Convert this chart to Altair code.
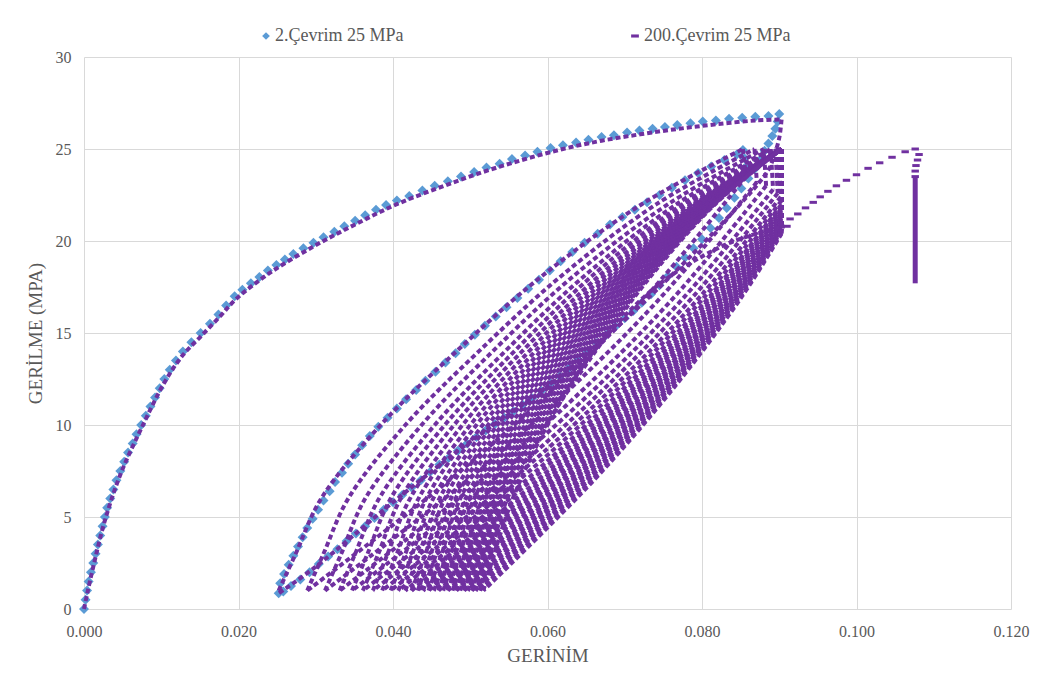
import altair as alt
import pandas as pd

S1 = "2.Çevrim 25 MPa"
S2 = "200.Çevrim 25 MPa"
BLUE = "#5B9BD5"
PURPLE = "#7030A0"
DASH_SHAPE = "M-1,-0.4H1V0.4H-1Z"

# ---------------- series 1 : 2.Çevrim (blue diamonds) ----------------
b_load_x = [0, 0.0002, 0.0004, 0.0006, 0.0009, 0.0012, 0.0015, 0.0018, 0.0021, 0.0024,
            0.0027, 0.0030, 0.0034, 0.0038, 0.0042, 0.0047, 0.0052, 0.0057, 0.0063, 0.0068,
            0.0074, 0.0080, 0.0086, 0.0092, 0.0098, 0.0104, 0.0111, 0.0119, 0.0128, 0.0139,
            0.0151, 0.0163, 0.0174, 0.0184, 0.0195,
            0.0205, 0.0216, 0.0227, 0.0238, 0.0249, 0.0260, 0.0271, 0.0284, 0.0297, 0.0310,
            0.0324, 0.0337, 0.0351, 0.0364, 0.0378, 0.0391, 0.0405, 0.0421, 0.0438, 0.0454,
            0.0471, 0.0488, 0.0505, 0.0521, 0.0538, 0.0554, 0.0571, 0.0587, 0.0604, 0.0620,
            0.0637, 0.0653, 0.0670, 0.0686, 0.0703, 0.0719, 0.0736, 0.0752, 0.0768, 0.0785,
            0.0801, 0.0818, 0.0835, 0.0852, 0.0869, 0.0886, 0.0900]
b_load_y = [0, 0.5, 1, 1.5, 2, 2.5, 3, 3.5, 4, 4.5,
            5, 5.5, 6, 6.5, 7, 7.5, 8, 8.5, 9, 9.5,
            10, 10.5, 11, 11.5, 12, 12.5, 13, 13.5, 14, 14.5,
            15, 15.5, 16, 16.5, 17,
            17.35, 17.7, 18.05, 18.4, 18.7, 19.0, 19.3, 19.6, 19.9, 20.2,
            20.5, 20.8, 21.1, 21.4, 21.7, 21.95, 22.2, 22.45, 22.75, 23.0,
            23.25, 23.5, 23.75, 24.0, 24.2, 24.45, 24.65, 24.85, 25.05, 25.2,
            25.35, 25.5, 25.65, 25.75, 25.9, 26.0, 26.1, 26.2, 26.3, 26.4,
            26.5, 26.55, 26.65, 26.7, 26.75, 26.8, 26.9]

b_unl_x = [0.0898, 0.0895, 0.0891, 0.0886, 0.0881, 0.0875, 0.0868, 0.0860, 0.0851, 0.0842,
           0.0832, 0.0822, 0.0811, 0.0800, 0.0789, 0.0778, 0.0767, 0.0756, 0.0745, 0.0734,
           0.0722, 0.0711, 0.0700, 0.0688, 0.0676, 0.0664, 0.0652, 0.0640, 0.0628, 0.0616,
           0.0604, 0.0592, 0.0580, 0.0568, 0.0556, 0.0544, 0.0532, 0.0520, 0.0508, 0.0496,
           0.0484, 0.0472, 0.0460, 0.0448, 0.0436, 0.0424, 0.0412, 0.0400, 0.0388, 0.0376,
           0.0364, 0.0352, 0.0340, 0.0328, 0.0316, 0.0304, 0.0292, 0.0280, 0.0268, 0.0258,
           0.0252]
b_unl_y = [26.5, 26.1, 25.7, 25.3, 24.9, 24.4, 23.9, 23.4, 22.85, 22.35,
           21.8, 21.25, 20.7, 20.1, 19.6, 19.1, 18.6, 18.1, 17.6, 17.1,
           16.65, 16.2, 15.8, 15.35, 14.9, 14.45, 14.0, 13.55, 13.1, 12.65,
           12.25, 11.85, 11.45, 11.1, 10.75, 10.4, 10.05, 9.7, 9.35, 9.0,
           8.6, 8.2, 7.85, 7.45, 7.0, 6.6, 6.2, 5.8, 5.4, 4.95,
           4.5, 4.1, 3.7, 3.25, 2.85, 2.45, 2.0, 1.6, 1.25, 0.95,
           0.85]

b_rel_x = [0.0254, 0.0259, 0.0265, 0.0271, 0.0277, 0.0283, 0.0289, 0.0296, 0.0303, 0.0310,
           0.0318, 0.0325, 0.0334, 0.0342, 0.0351, 0.0360, 0.0370, 0.0381, 0.0393, 0.0405,
           0.0417, 0.0430, 0.0442, 0.0455, 0.0468, 0.0481, 0.0493, 0.0506, 0.0519, 0.0533,
           0.0547, 0.0561, 0.0575, 0.0589, 0.0603, 0.0617, 0.0632, 0.0648, 0.0665, 0.0681,
           0.0697, 0.0713, 0.0729, 0.0745, 0.0761, 0.0778, 0.0795, 0.0812, 0.0829, 0.0845,
           0.0853, 0.0855, 0.0856, 0.0857]
b_rel_y = [1.4, 1.9, 2.4, 2.9, 3.4, 3.9, 4.4, 4.9, 5.4, 5.9,
           6.4, 6.9, 7.4, 7.9, 8.4, 8.9, 9.4, 9.9, 10.4, 10.9,
           11.4, 11.9, 12.4, 12.9, 13.4, 13.9, 14.4, 14.9, 15.4, 15.9,
           16.4, 16.9, 17.4, 17.9, 18.4, 18.9, 19.4, 19.9, 20.4, 20.9,
           21.3, 21.7, 22.1, 22.5, 22.9, 23.3, 23.7, 24.05, 24.4, 24.7,
           24.95, 24.5, 24.0, 23.5]

# ---------------- series 2 : 200.Çevrim (purple) ----------------
p_load_x = [0, 0.0004, 0.0012, 0.0027, 0.0047, 0.0074, 0.0104, 0.0128, 0.0152, 0.0176,
            0.0197, 0.0240, 0.0297, 0.0351, 0.0405, 0.0460, 0.0513, 0.0567, 0.0620, 0.0670,
            0.0720, 0.0770, 0.0820, 0.0870, 0.0903]
p_load_y = [0, 0.8, 2.3, 4.8, 7.3, 9.8, 12.3, 13.8, 14.85, 15.9,
            16.85, 18.25, 19.7, 20.9, 22.0, 22.9, 23.7, 24.4, 25.0, 25.45,
            25.8, 26.1, 26.35, 26.55, 26.6]

p_unl0_x = [0.0903, 0.0900, 0.0893, 0.0885, 0.0818, 0.0705, 0.0600, 0.0500, 0.0400, 0.0300, 0.0252]
p_unl0_y = [26.6, 25.6, 24.6, 23.8, 20.6, 15.9, 12.1, 9.1, 5.8, 2.3, 0.85]

# reloading branches: strain at these stress levels, one row per recorded cycle
rel_levels = [1, 3, 6, 10, 14, 18, 22, 25]
rel_x = [
    [0.0252, 0.0274, 0.0307, 0.0384, 0.0482, 0.0590, 0.0722, 0.0853],
    [0.0289, 0.0310, 0.0342, 0.0416, 0.0511, 0.0615, 0.0741, 0.0868],
    [0.0312, 0.0333, 0.0364, 0.0437, 0.0529, 0.0631, 0.0756, 0.0880],
    [0.0331, 0.0351, 0.0382, 0.0454, 0.0545, 0.0645, 0.0767, 0.0889],
    [0.0347, 0.0367, 0.0397, 0.0467, 0.0557, 0.0655, 0.0775, 0.0895],
    [0.0361, 0.0381, 0.0410, 0.0479, 0.0567, 0.0664, 0.0781, 0.0899],
    [0.0374, 0.0393, 0.0422, 0.0490, 0.0576, 0.0671, 0.0787, 0.0902],
    [0.0386, 0.0405, 0.0433, 0.0500, 0.0584, 0.0677, 0.0790, 0.0903],
    [0.0397, 0.0416, 0.0443, 0.0508, 0.0591, 0.0682, 0.0792, 0.0903],
    [0.0407, 0.0425, 0.0452, 0.0516, 0.0597, 0.0686, 0.0795, 0.0903],
    [0.0416, 0.0434, 0.0460, 0.0523, 0.0602, 0.0690, 0.0796, 0.0903],
    [0.0424, 0.0442, 0.0467, 0.0529, 0.0607, 0.0693, 0.0798, 0.0903],
    [0.0432, 0.0449, 0.0475, 0.0535, 0.0612, 0.0697, 0.0800, 0.0903],
    [0.0439, 0.0456, 0.0481, 0.0541, 0.0617, 0.0700, 0.0802, 0.0903],
    [0.0446, 0.0463, 0.0487, 0.0546, 0.0621, 0.0703, 0.0803, 0.0903],
    [0.0453, 0.0470, 0.0494, 0.0552, 0.0625, 0.0706, 0.0805, 0.0903],
    [0.0459, 0.0475, 0.0499, 0.0557, 0.0629, 0.0709, 0.0806, 0.0903],
    [0.0465, 0.0481, 0.0505, 0.0561, 0.0633, 0.0711, 0.0807, 0.0903],
    [0.0471, 0.0487, 0.0510, 0.0566, 0.0636, 0.0714, 0.0809, 0.0903],
    [0.0477, 0.0493, 0.0516, 0.0571, 0.0640, 0.0717, 0.0810, 0.0903],
    [0.0482, 0.0497, 0.0520, 0.0575, 0.0643, 0.0719, 0.0811, 0.0903],
    [0.0487, 0.0502, 0.0525, 0.0578, 0.0646, 0.0721, 0.0812, 0.0903],
    [0.0492, 0.0507, 0.0529, 0.0582, 0.0649, 0.0723, 0.0813, 0.0903],
    [0.0497, 0.0512, 0.0534, 0.0586, 0.0652, 0.0725, 0.0814, 0.0903],
    [0.0502, 0.0517, 0.0538, 0.0590, 0.0656, 0.0728, 0.0815, 0.0903],
    [0.0507, 0.0521, 0.0543, 0.0594, 0.0659, 0.0730, 0.0816, 0.0903],
    [0.0512, 0.0526, 0.0548, 0.0598, 0.0662, 0.0732, 0.0817, 0.0903],
]

# unloading branches: stress at top, knee stress (per cycle), then fixed levels
unl_top = 25
knee_y = [23.5, 23.2, 23.0, 22.8, 22.6, 22.4, 22.2, 22.0, 21.9, 21.8,
          21.7, 21.6, 21.5, 21.45, 21.35, 21.25, 21.2, 21.1, 21.0, 20.95,
          20.85, 20.8, 20.7, 20.6, 20.55, 20.45, 20.4]
unl_levels = [17, 12, 7, 1]
unl_x = [
    [0.0853, 0.0857, 0.0728, 0.0609, 0.0473, 0.0289],
    [0.0868, 0.0871, 0.0748, 0.0630, 0.0496, 0.0312],
    [0.0880, 0.0883, 0.0765, 0.0648, 0.0514, 0.0331],
    [0.0889, 0.0892, 0.0778, 0.0662, 0.0529, 0.0347],
    [0.0895, 0.0898, 0.0789, 0.0674, 0.0542, 0.0361],
    [0.0899, 0.0902, 0.0798, 0.0684, 0.0553, 0.0374],
    [0.0902, 0.0903, 0.0804, 0.0692, 0.0563, 0.0386],
    [0.0903, 0.0903, 0.0810, 0.0699, 0.0572, 0.0397],
    [0.0903, 0.0903, 0.0813, 0.0705, 0.0579, 0.0407],
    [0.0903, 0.0903, 0.0817, 0.0711, 0.0587, 0.0416],
    [0.0903, 0.0903, 0.0820, 0.0715, 0.0593, 0.0424],
    [0.0903, 0.0903, 0.0823, 0.0719, 0.0599, 0.0432],
    [0.0903, 0.0903, 0.0826, 0.0723, 0.0604, 0.0439],
    [0.0903, 0.0903, 0.0827, 0.0727, 0.0609, 0.0446],
    [0.0903, 0.0903, 0.0830, 0.0731, 0.0614, 0.0453],
    [0.0903, 0.0903, 0.0832, 0.0734, 0.0619, 0.0459],
    [0.0903, 0.0903, 0.0834, 0.0737, 0.0623, 0.0465],
    [0.0903, 0.0903, 0.0836, 0.0740, 0.0628, 0.0471],
    [0.0903, 0.0903, 0.0839, 0.0743, 0.0632, 0.0477],
    [0.0903, 0.0903, 0.0840, 0.0746, 0.0635, 0.0482],
    [0.0903, 0.0903, 0.0842, 0.0748, 0.0639, 0.0487],
    [0.0903, 0.0903, 0.0843, 0.0751, 0.0642, 0.0492],
    [0.0903, 0.0903, 0.0845, 0.0754, 0.0646, 0.0497],
    [0.0903, 0.0903, 0.0847, 0.0756, 0.0650, 0.0502],
    [0.0903, 0.0903, 0.0848, 0.0758, 0.0653, 0.0507],
    [0.0903, 0.0903, 0.0850, 0.0761, 0.0657, 0.0512],
    [0.0903, 0.0903, 0.0852, 0.0763, 0.0660, 0.0517],
]

# last reloading before rupture
fin_x = [0.0517, 0.0531, 0.0555, 0.0600, 0.0660, 0.0740, 0.0820, 0.0870, 0.0907]
fin_y = [1, 3, 6, 10, 14, 17.5, 19.6, 20.4, 20.8]

# individual markers of the rupture path
fail_x = [0.0910, 0.0914, 0.0924, 0.0934, 0.0944, 0.0953, 0.0963, 0.0974, 0.0987, 0.1000,
          0.1015, 0.1030, 0.1046, 0.1063, 0.1076, 0.1081, 0.1079, 0.1077, 0.1076, 0.1076]
fail_y = [20.8, 21.2, 21.47, 21.8, 22.1, 22.4, 22.7, 23.0, 23.3, 23.6,
          23.95, 24.25, 24.55, 24.85, 25.0, 24.7, 24.4, 24.1, 23.8, 23.5]

drop_x = [0.1076, 0.1076]
drop_y = [23.5, 17.7]

# ---------------- tables ----------------
blue_rows = []
for xs, ys in [(b_load_x, b_load_y), (b_unl_x, b_unl_y), (b_rel_x, b_rel_y)]:
    for x, y in zip(xs, ys):
        blue_rows.append({"x": x, "y": y, "series": S1})
blue_df = pd.DataFrame(blue_rows)

branches = [list(zip(p_load_x, p_load_y)), list(zip(p_unl0_x, p_unl0_y))]
for r, u, k in zip(rel_x, unl_x, knee_y):
    branches.append(list(zip(r, rel_levels)))                 # reloading
    branches.append([(u[0], unl_top), (u[1], k)])             # steep start of unloading
    branches.append(list(zip(u[1:], [k] + unl_levels)))       # unloading
branches.append(list(zip(fin_x, fin_y)))
purple_rows = []
for s, br in enumerate(branches):
    for n, (x, y) in enumerate(br):
        purple_rows.append({"x": x, "y": y, "seg": s, "i": n})
purple_df = pd.DataFrame(purple_rows)

fail_df = pd.DataFrame({"x": fail_x, "y": fail_y, "series": [S2] * len(fail_x)})
drop_df = pd.DataFrame({"x": drop_x, "y": drop_y, "i": list(range(len(drop_x)))})

# ---------------- chart ----------------
FONT = "Liberation Serif"
GREY = "#595959"
xscale = alt.Scale(domain=[0, 0.12], nice=False)
yscale = alt.Scale(domain=[0, 30], nice=False)
xenc = alt.X("x:Q", scale=xscale,
             axis=alt.Axis(title="GERİNİM", values=[0, 0.02, 0.04, 0.06, 0.08, 0.10, 0.12],
                           format=".3f", labelPadding=14, titlePadding=7, labelFlush=False))
yenc = alt.Y("y:Q", scale=yscale,
             axis=alt.Axis(title="GERİLME (MPA)", values=[0, 5, 10, 15, 20, 25, 30],
                           labelPadding=13, titlePadding=10, labelFlush=False))

legend = alt.Legend(title=None, orient="none", legendX=173, legendY=-30,
                    direction="horizontal", columnPadding=222, padding=0)
color = alt.Color("series:N", scale=alt.Scale(domain=[S1, S2], range=[BLUE, PURPLE]),
                  legend=legend)
shape = alt.Shape("series:N", scale=alt.Scale(domain=[S1, S2], range=["diamond", DASH_SHAPE]),
                  legend=legend)

blue_layer = alt.Chart(blue_df).mark_point(filled=True, opacity=1, size=100).encode(
    x=xenc, y=yenc, color=color, shape=shape)

purple_line = alt.Chart(purple_df).mark_line(
    color=PURPLE, strokeWidth=4, strokeDash=[5, 3], interpolate="catmull-rom").encode(
    x=alt.X("x:Q", scale=xscale), y=alt.Y("y:Q", scale=yscale),
    detail="seg:N", order="i:Q")

fail_layer = alt.Chart(fail_df).mark_point(filled=True, opacity=1, size=55).encode(
    x=alt.X("x:Q", scale=xscale), y=alt.Y("y:Q", scale=yscale), color=color, shape=shape)

drop_layer = alt.Chart(drop_df).mark_line(color=PURPLE, strokeWidth=5).encode(
    x=alt.X("x:Q", scale=xscale), y=alt.Y("y:Q", scale=yscale), order="i:Q")

chart = alt.layer(blue_layer, purple_line, fail_layer, drop_layer).properties(
    width=927, height=552,
    background="white",
    autosize=alt.AutoSizeParams(type="none"),
    padding={"left": 76, "top": 49, "right": 21, "bottom": 67},
).configure_axis(
    grid=True, gridColor="#D9D9D9", gridWidth=1, domain=False, ticks=False,
    labelFont=FONT, labelFontSize=16, labelColor=GREY,
    titleFont=FONT, titleFontSize=19, titleColor=GREY,
    titleFontWeight="normal",
).configure_legend(
    labelFont=FONT, labelFontSize=18, labelColor=GREY,
    symbolSize=60, symbolStrokeWidth=0, labelOffset=0,
).configure_view(stroke="transparent")

chart.save("out.html", embed_options={"renderer": "svg", "actions": False})
